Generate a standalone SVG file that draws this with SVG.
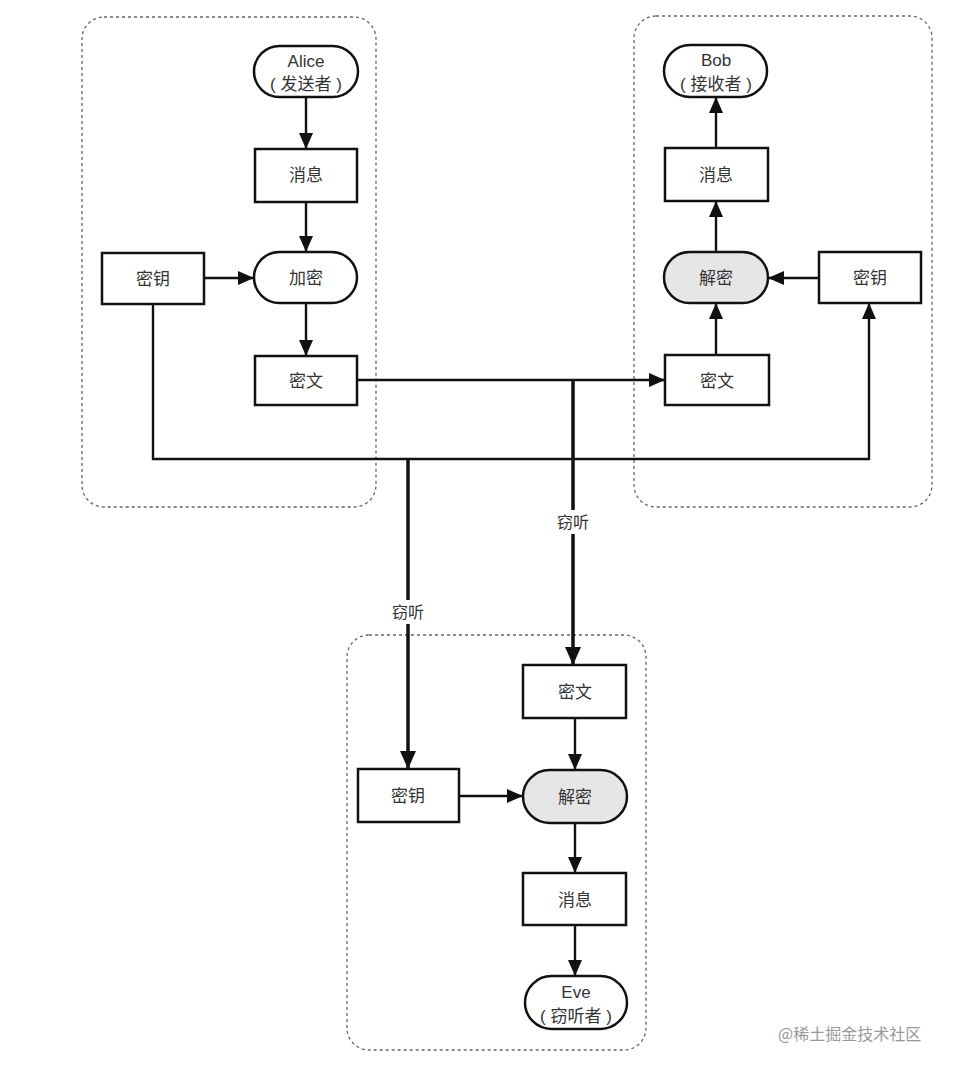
<svg xmlns="http://www.w3.org/2000/svg" width="966" height="1072" viewBox="0 0 966 1072">
<defs>
<marker id="ah" markerUnits="userSpaceOnUse" markerWidth="16" markerHeight="14" refX="16" refY="7" orient="auto">
<path d="M0,0 L16,7 L0,14 z" fill="#111"/>
</marker>
<marker id="ahb" markerUnits="userSpaceOnUse" markerWidth="18" markerHeight="16" refX="18" refY="8" orient="auto">
<path d="M0,0 L18,8 L0,16 z" fill="#111"/>
</marker>
</defs>
<style>
.grp{fill:none;stroke:#666;stroke-width:1.3;stroke-dasharray:3,3}
.box{fill:#fff;stroke:#111;stroke-width:2.5}
.dec{fill:#e6e6e6;stroke:#111;stroke-width:2.5}
.t{font-family:"Liberation Sans","Noto Sans CJK SC",sans-serif;font-size:17px;fill:#333;text-anchor:middle}
.c{fill:none;stroke:#111;stroke-width:2.4}
.e{fill:none;stroke:#111;stroke-width:3.5}
.lbl{font-family:"Noto Sans CJK SC",sans-serif;font-size:16px;fill:#333;text-anchor:middle}
</style>
<rect width="966" height="1072" fill="#fff"/>
<g id="groups">
<rect class="grp" x="82" y="17" width="294" height="490" rx="22"/>
<rect class="grp" x="634" y="16" width="298" height="491" rx="22"/>
<rect class="grp" x="347" y="635" width="299" height="415" rx="22"/>
</g>
<g id="connectors">
<line class="c" x1="306" y1="97" x2="306" y2="149" marker-end="url(#ah)"/>
<line class="c" x1="306" y1="202" x2="306" y2="252" marker-end="url(#ah)"/>
<line class="c" x1="204" y1="278" x2="254" y2="278" marker-end="url(#ah)"/>
<line class="c" x1="306" y1="303" x2="306" y2="356" marker-end="url(#ah)"/>
<line class="c" x1="357" y1="380" x2="665" y2="380" marker-end="url(#ah)"/>
<polyline class="c" points="153,304 153,459 869,459 869,303" marker-end="url(#ah)"/>
<line class="c" x1="716" y1="355" x2="716" y2="303" marker-end="url(#ah)"/>
<line class="c" x1="819" y1="278" x2="768" y2="278" marker-end="url(#ah)"/>
<line class="c" x1="716" y1="252" x2="716" y2="201" marker-end="url(#ah)"/>
<line class="c" x1="716" y1="148" x2="716" y2="97" marker-end="url(#ah)"/>
<line class="e" x1="408" y1="459" x2="408" y2="769" marker-end="url(#ahb)"/>
<line class="e" x1="573" y1="380" x2="573" y2="665" marker-end="url(#ahb)"/>
<rect x="384" y="600" width="48" height="24" fill="#fff"/>
<text class="lbl" x="408" y="618">窃听</text>
<rect x="549" y="510" width="48" height="24" fill="#fff"/>
<text class="lbl" x="573" y="528">窃听</text>
<line class="c" x1="575" y1="718" x2="575" y2="770" marker-end="url(#ah)"/>
<line class="c" x1="459" y1="796" x2="523" y2="796" marker-end="url(#ah)"/>
<line class="c" x1="575" y1="823" x2="575" y2="873" marker-end="url(#ah)"/>
<line class="c" x1="575" y1="925" x2="575" y2="976" marker-end="url(#ah)"/>
</g>
<g id="alice">
<rect class="box" x="254" y="46" width="104" height="51" rx="25.5"/>
<text class="t" x="306" y="67">Alice</text>
<text class="t" x="306" y="90">(  发送者  )</text>
</g>
<g id="msg-a">
<rect class="box" x="255" y="149" width="102" height="53"/>
<text class="t" x="306" y="181">消息</text>
</g>
<g id="enc">
<rect class="box" x="254" y="252" width="103" height="51" rx="25.5"/>
<text class="t" x="306" y="284">加密</text>
</g>
<g id="key-a">
<rect class="box" x="102" y="253" width="102" height="51"/>
<text class="t" x="153" y="285">密钥</text>
</g>
<g id="ct-a">
<rect class="box" x="255" y="356" width="102" height="49"/>
<text class="t" x="306" y="387">密文</text>
</g>
<g id="bob">
<rect class="box" x="664" y="45" width="103" height="52" rx="26"/>
<text class="t" x="716" y="66">Bob</text>
<text class="t" x="716" y="90">(  接收者  )</text>
</g>
<g id="msg-b">
<rect class="box" x="665" y="148" width="103" height="53"/>
<text class="t" x="716" y="181">消息</text>
</g>
<g id="dec-b">
<rect class="dec" x="664" y="252" width="104" height="51" rx="25.5"/>
<text class="t" x="716" y="284">解密</text>
</g>
<g id="key-b">
<rect class="box" x="819" y="252" width="102" height="51"/>
<text class="t" x="870" y="284">密钥</text>
</g>
<g id="ct-b">
<rect class="box" x="665" y="355" width="104" height="50"/>
<text class="t" x="717" y="387">密文</text>
</g>
<g id="ct-e">
<rect class="box" x="523" y="665" width="103" height="53"/>
<text class="t" x="575" y="698">密文</text>
</g>
<g id="key-e">
<rect class="box" x="358" y="769" width="101" height="53"/>
<text class="t" x="408" y="802">密钥</text>
</g>
<g id="dec-e">
<rect class="dec" x="523" y="770" width="104" height="53" rx="26.5"/>
<text class="t" x="575" y="803">解密</text>
</g>
<g id="msg-e">
<rect class="box" x="523" y="873" width="103" height="52"/>
<text class="t" x="575" y="906">消息</text>
</g>
<g id="eve">
<rect class="box" x="525" y="976" width="102" height="53" rx="26.5"/>
<text class="t" x="576" y="998">Eve</text>
<text class="t" x="576" y="1022">(  窃听者  )</text>
</g>
<text x="778" y="1040" font-family="Noto Sans CJK SC,sans-serif" font-size="16" fill="#999">@稀土掘金技术社区</text>
</svg>
